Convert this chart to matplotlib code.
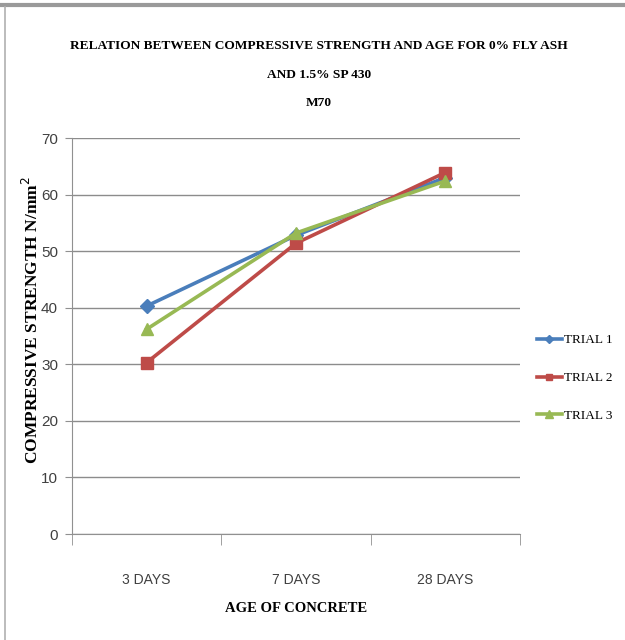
import matplotlib
matplotlib.use('Agg')
from matplotlib import pyplot as plt
from matplotlib.lines import Line2D

# data
ages = ['3 DAYS', '7 DAYS', '28 DAYS']
trial_1 = [40.3, 52.8, 63.0]
trial_2 = [30.3, 51.4, 63.9]
trial_3 = [36.2, 53.2, 62.4]
y_ticks = [0, 10, 20, 30, 40, 50, 60, 70]

series = [
    ('TRIAL 1', trial_1, '#4a7ebb', 'D', 7),
    ('TRIAL 2', trial_2, '#be4b48', 's', 8),
    ('TRIAL 3', trial_3, '#98b954', '^', 9),
]

sans = ['Liberation Sans', 'DejaVu Sans']
serif = ['Liberation Serif', 'DejaVu Serif']

fig = plt.figure(figsize=(6.25, 6.4), dpi=100)

# outer frame like the pasted screenshot
fig.add_artist(Line2D([0, 1], [1 - 5 / 640, 1 - 5 / 640], color='#9a9a9a', lw=3,
                      transform=fig.transFigure))
fig.add_artist(Line2D([5 / 625, 5 / 625], [0, 1 - 7 / 640], color='#b0b0b0', lw=1.2,
                      transform=fig.transFigure))

ax = fig.add_axes([72 / 625, 1 - 534 / 640, 448 / 625, 396 / 640])

x = list(range(len(ages)))
for name, vals, col, mk, ms in series:
    ax.plot(x, vals, color=col, lw=2.6, marker=mk, markersize=ms, label=name)

ax.set_xlim(-0.5, len(ages) - 0.5)
ax.set_ylim(0, 70)
ax.set_yticks(y_ticks)
ax.set_yticklabels([str(v) for v in y_ticks], family=sans, fontsize=11, color='#404040')
ax.set_xticks(x)
ax.set_xticklabels(ages, family=sans, fontsize=10, color='#404040')
ax.set_xticks([i - 0.5 for i in range(len(ages) + 1)], minor=True)
ax.tick_params(axis='x', which='major', length=0, pad=28)
ax.tick_params(axis='x', which='minor', length=8, color='#909090')
ax.tick_params(axis='y', length=5, color='#909090', pad=5)

ax.grid(axis='y', color='#8c8c8c', lw=1)
ax.set_axisbelow(True)
for side in ['top', 'right']:
    ax.spines[side].set_visible(False)
ax.spines['left'].set_color('#909090')
ax.spines['bottom'].set_color('#909090')

ax.set_xlabel('AGE OF CONCRETE', family=serif, fontweight='bold', fontsize=10.5, labelpad=11)
fig.text(32 / 625, 1 - 320 / 640, 'COMPRESSIVE STRENGTH N/mm$^2$', rotation=90,
         ha='center', va='center', family=serif, fontweight='bold', fontsize=12.5)

fig.text(0.51, 1 - 46 / 640, 'RELATION BETWEEN COMPRESSIVE STRENGTH AND AGE FOR 0% FLY ASH',
         ha='center', va='center', family=serif, fontweight='bold', fontsize=9.6)
fig.text(0.51, 1 - 75 / 640, 'AND 1.5% SP 430', ha='center', va='center',
         family=serif, fontweight='bold', fontsize=9.6)
fig.text(0.51, 1 - 103 / 640, 'M70', ha='center', va='center',
         family=serif, fontweight='bold', fontsize=9.6)

ax.legend(loc='center left', bbox_to_anchor=(525 / 625, 1 - 378 / 640),
          bbox_transform=fig.transFigure, frameon=False, handlelength=1.9,
          handletextpad=0.15, labelspacing=1.95, markerscale=0.6,
          prop={'family': serif, 'size': 9.5})

fig.savefig('out.png', dpi=100)
